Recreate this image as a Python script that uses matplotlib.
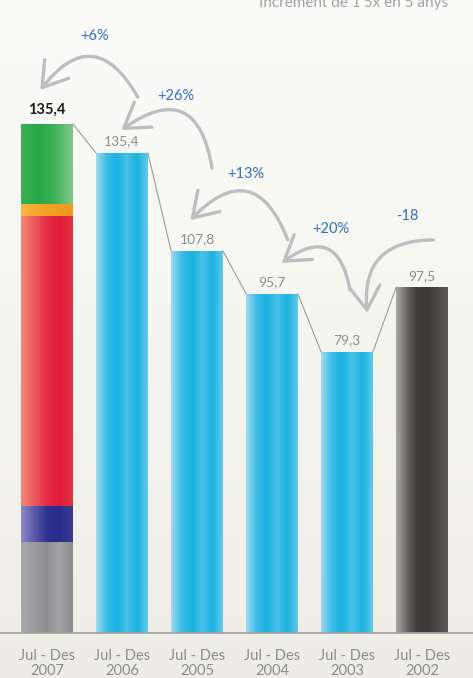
import numpy as np
import matplotlib.pyplot as plt
from matplotlib.colors import LinearSegmentedColormap
from matplotlib.patches import FancyArrowPatch, ArrowStyle

plt.rcParams['font.family'] = ['Lato', 'DejaVu Sans']

# dades
categories = ['Jul - Des\n2007', 'Jul - Des\n2006', 'Jul - Des\n2005',
              'Jul - Des\n2004', 'Jul - Des\n2003', 'Jul - Des\n2002']
values = [143.6, 135.4, 107.8, 95.7, 79.3, 97.5]
value_labels = ['135,4', '135,4', '107,8', '95,7', '79,3', '97,5']
seg_2007 = [25.7, 10.2, 81.7, 3.4, 22.6]
pct_labels = ['+6%', '+26%', '+13%', '+20%', '-18']
title = "Increment de 1'5x en 5 anys"

# colors (gradient horitzontal de cada barra)
blue = ['#a2d9f1', '#3dbde6', '#1ab2e0', '#48c1e7', '#1cb2df', '#62c8ea']
dark = ['#aaa7a4', '#6c6a68', '#403f3e', '#3b3a39', '#4a4948', '#5c5b5a']
seg_cols = [
    ['#a8a8aa', '#9c9c9e', '#8f9091', '#a2a2a4', '#8b8c8d'],
    ['#8e8ac6', '#5c5aa8', '#2f3191', '#2a2c88', '#3a3c94'],
    ['#f28a7a', '#ec5c5c', '#e42b45', '#e01c3a', '#e43242'],
    ['#f8b445', '#f2a222', '#f09a1a'],
    ['#3ab152', '#27a847', '#42b15a', '#84c68c'],
]

fig = plt.figure(figsize=(4.73, 6.78), dpi=100)
ax = fig.add_axes([0, 0, 1, 1])
ax.axis('off')

x0, x1 = -0.627, 5.68
y0, y1 = -12.69, 178.6
w = 0.69

# fons
bg = LinearSegmentedColormap.from_list('bg', ['#eeede5', '#f5f5f0', '#fbfbfa'])
ax.imshow(np.linspace(0, 1, 256)[:, None], cmap=bg, origin='lower',
          extent=(x0, x1, y0, y1), aspect='auto', zorder=0)


def grad_bar(x, bottom, h, cols):
    b = ax.bar(x, h, w, bottom=bottom, color=cols[2], edgecolor='none', zorder=2)[0]
    cm = LinearSegmentedColormap.from_list('g', cols)
    im = ax.imshow(np.linspace(0, 1, 128)[None, :], cmap=cm,
                   extent=(x - w / 2, x + w / 2, bottom, bottom + h),
                   aspect='auto', zorder=3, interpolation='bilinear')
    im.set_clip_path(b)


# barra 2007 apilada
bot = 0
for v, c in zip(seg_2007, seg_cols):
    grad_bar(0, bot, v, c)
    bot += v

for i in range(1, len(values)):
    grad_bar(i, 0, values[i], dark if i == len(values) - 1 else blue)

# linies de connexio entre barres
for i in range(len(values) - 1):
    ax.plot([i + w / 2, i + 1 - w / 2], [values[i], values[i + 1]],
            color='#9c9c9c', lw=0.8, zorder=4)

# linia base
ax.axhline(0, color='#a4a4a4', lw=1.3, zorder=5)

# etiquetes de valor
for i, (v, s) in enumerate(zip(values, value_labels)):
    if i == 0:
        ax.annotate(s, (i, v), xytext=(0, 5), textcoords='offset points',
                    ha='center', va='bottom', fontsize=10.5, fontweight='bold',
                    color='#1a1a1a', zorder=6)
    else:
        ax.annotate(s, (i, v), xytext=(0, 4), textcoords='offset points',
                    ha='center', va='bottom', fontsize=10, color='#8e8e8e', zorder=6)

# categories
for i, c in enumerate(categories):
    ax.text(i, -8.6, c, ha='center', va='center', fontsize=10.5,
            color='#8c8c8c', linespacing=1.15, zorder=6)

# fletxes
sdx = [0.21, 0.2, 0.21, 0.04, 0.15]
sdy = [15.8, 23.4, 15.2, 17.5, 13.4]
edx = [-0.09, -0.01, -0.09, 0.13, 0.27]
edy = [9.6, 6.5, 8.7, 8.7, 11.0]
rads = [0.75, 0.8, 0.78, 0.8, 0.55]
lx = [0.63, 0.72, 0.65, 0.79, 0.81]
ly = [24.8, 16.1, 21.7, 18.4, 20.1]
style = ArrowStyle('->', head_length=0.85, head_width=0.55)
for k in range(len(pct_labels)):
    a = FancyArrowPatch((k + 1 + sdx[k], values[k + 1] + sdy[k]),
                        (k + edx[k], values[k] + edy[k]),
                        connectionstyle=f'arc3,rad={rads[k]}', arrowstyle=style,
                        mutation_scale=20, lw=2.4, color='#bdbec2',
                        shrinkA=0, shrinkB=0, capstyle='round',
                        joinstyle='round', zorder=5)
    ax.add_patch(a)
    ax.text(k + lx[k], max(values[k], values[k + 1]) + ly[k], pct_labels[k],
            ha='center', va='center', fontsize=10.5, color='#2f72c0', zorder=6)

ax.text(5.35, 176.6, title, ha='right', va='baseline', fontsize=11,
        color='#a2a2a2', zorder=6)

ax.set_xlim(x0, x1)
ax.set_ylim(y0, y1)
fig.savefig('out.png', dpi=100)
